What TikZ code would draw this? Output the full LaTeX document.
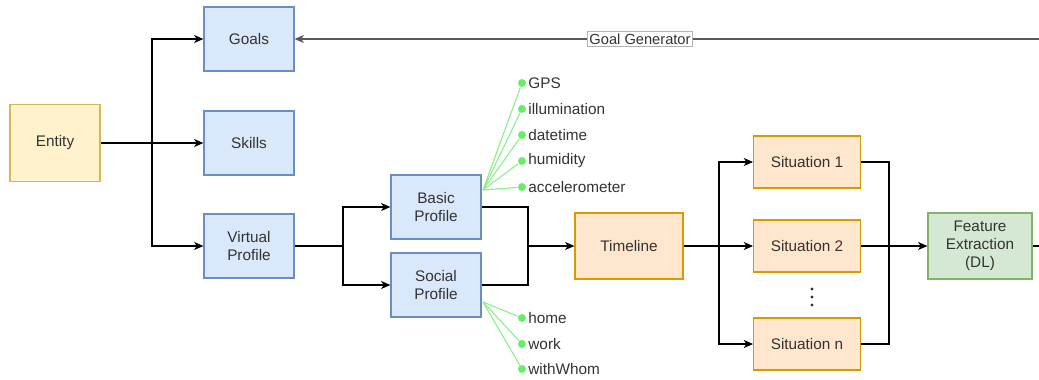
\documentclass[tikz,border=0pt]{standalone}
\usepackage{fontspec}
\setmainfont{Liberation Sans}
\usetikzlibrary{arrows.meta}
\usepackage{xcolor}

\definecolor{blueFill}{HTML}{DAE8FC}
\definecolor{blueLine}{HTML}{6C8EBF}
\definecolor{yelFill}{HTML}{FFF2CC}
\definecolor{yelLine}{HTML}{D6B656}
\definecolor{orgFill}{HTML}{FFE6CC}
\definecolor{orgLine}{HTML}{D79B00}
\definecolor{grnFill}{HTML}{D5E8D4}
\definecolor{grnLine}{HTML}{82B366}
\definecolor{dotGreen}{HTML}{66EE66}
\definecolor{txtGray}{HTML}{333333}

\tikzset{
  box/.style={draw, line width=0.9pt, align=center, text=txtGray,
    font=\fontsize{11.5}{13.5}\selectfont, inner sep=0pt},
  bluebox/.style={box, fill=blueFill, draw=blueLine,
    minimum width=67.5pt, minimum height=48pt},
  sitbox/.style={box, fill=orgFill, draw=orgLine,
    minimum width=80pt, minimum height=39pt},
  sensor/.style={circle, fill=dotGreen, inner sep=0pt, minimum size=6pt},
  sensorlabel/.style={anchor=west, text=txtGray, inner sep=1pt,
    font=\fontsize{11.5}{13.5}\selectfont}
}

\begin{document}
\begin{tikzpicture}[x=0.75pt,y=-0.75pt,line width=0.8pt,
    >={Stealth[length=7pt,width=6pt,inset=2pt]}]
    \useasboundingbox (0,0) rectangle (1039,379);

    \node[box,fill=yelFill,draw=yelLine,minimum width=67.5pt,
      minimum height=57.5pt] (entity) at (55,143) {Entity};
    \node[bluebox] (goals) at (249,39) {Goals};
    \node[bluebox] (skills) at (249,143) {Skills};
    \node[bluebox] (vprof) at (249,246) {Virtual\\Profile};
    \node[bluebox] (basic) at (436,207) {Basic\\Profile};
    \node[bluebox] (social) at (436,285) {Social\\Profile};
    \node[box,fill=orgFill,draw=orgLine,minimum width=81pt,
      minimum height=49.5pt] (timeline) at (629,246) {Timeline};
    \node[sitbox] (sit1) at (807,162) {Situation 1};
    \node[sitbox] (sit2) at (807,246) {Situation 2};
    \node[sitbox] (sitn) at (807,344) {Situation n};
    \foreach \y in {289,297,305} \fill[txtGray] (812,\y) circle (1.3pt);
    \node[box,fill=grnFill,draw=grnLine,minimum width=78pt,
      minimum height=49.5pt] (feat) at (980,246) {Feature\\Extraction\\(DL)};

    % entity -> goals, skills, virtual profile
    \coordinate (ebranch) at (152,143);
    \draw[->] (entity) -- (skills);
    \draw[->] (ebranch) |- (goals);
    \draw[->] (ebranch) |- (vprof);

    % virtual profile -> basic, social
    \coordinate (vbranch) at (343,246);
    \draw (vprof) -- (vbranch);
    \draw[->] (vbranch) |- (basic);
    \draw[->] (vbranch) |- (social);

    % profiles -> timeline
    \coordinate (tmerge) at (528,246);
    \draw (basic) -| (tmerge);
    \draw (social) -| (tmerge);
    \draw[->] (tmerge) -- (timeline);

    % timeline -> situations
    \coordinate (sbranch) at (719,246);
    \draw (timeline) -- (sbranch);
    \draw[->] (sbranch) |- (sit1);
    \draw[->] (sbranch) |- (sitn);
    \draw[->] (sbranch) -- (sit2);

    % situations -> feature extraction
    \coordinate (smerge) at (889,246);
    \draw (sit1) -| (smerge);
    \draw (sitn) -| (smerge);
    \draw[->] (sit2) -- (feat);

    \coordinate (fout) at (1039,246);
    \draw (feat) -- (fout);

    % goal generator loop
    \coordinate (gin) at (1039,39);
    \draw[->,draw=black!65] (gin) -- node[pos=0.536,fill=white,draw=black!30,
      line width=0.5pt,inner sep=1.5pt,text=txtGray,
      font=\fontsize{11}{13}\selectfont] (ggen) {Goal Generator} (goals);

    % sensors of the profiles
    \coordinate (bsrc) at (483,190);
    \coordinate (ssrc) at (483,302);
    \foreach \name/\y in {GPS/83,illumination/109,datetime/135,
      humidity/161,accelerometer/187} {
      \node[sensor] (s-\name) at (522,\y) {};
      \node[sensorlabel] at (s-\name.east) {\name};
      \draw[dotGreen!80!white,line width=0.8pt] (bsrc) -- (s-\name);
    }
    \foreach \name/\y in {home/318,work/344,withWhom/369} {
      \node[sensor] (s-\name) at (522,\y) {};
      \node[sensorlabel] at (s-\name.east) {\name};
      \draw[dotGreen!80!white,line width=0.8pt] (ssrc) -- (s-\name);
    }

  \end{tikzpicture}
\end{document}
